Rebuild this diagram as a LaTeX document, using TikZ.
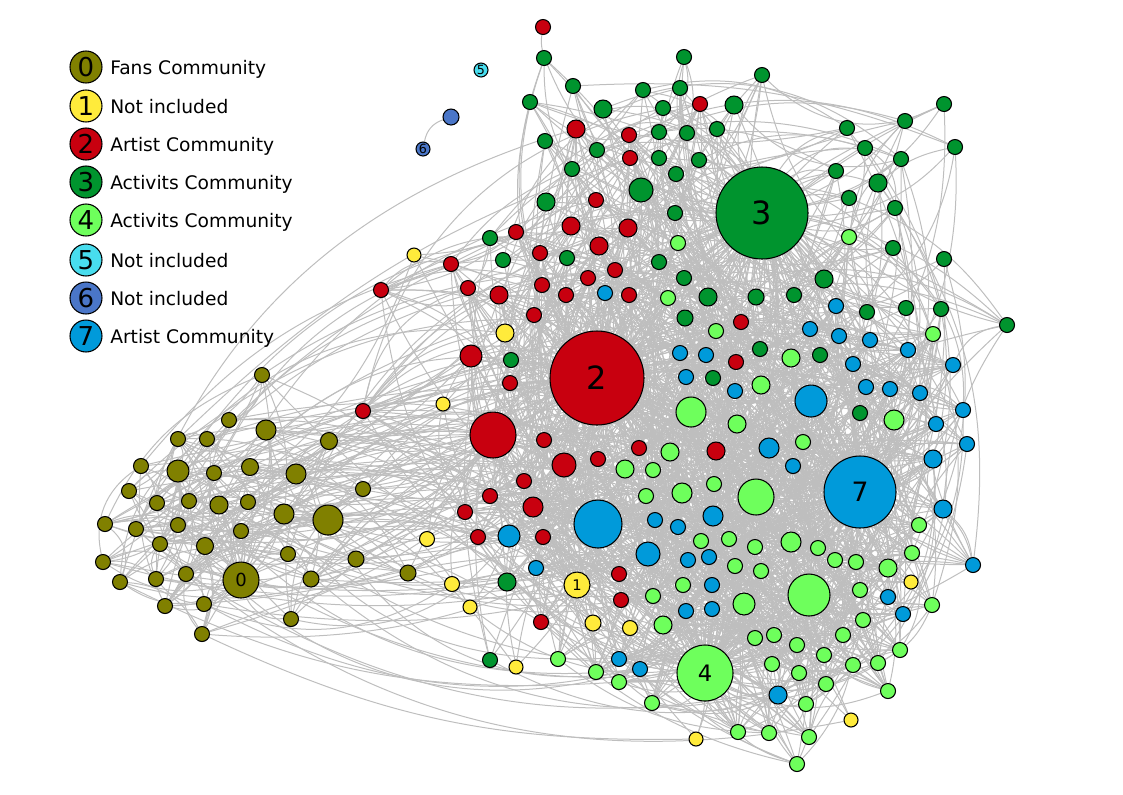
\documentclass[tikz,border=0pt]{standalone}
\usepackage{fontspec}
\setmainfont{DejaVu Sans}
\definecolor{colO}{HTML}{808000}
\definecolor{colY}{HTML}{FFEB3B}
\definecolor{colR}{HTML}{C8000F}
\definecolor{colG}{HTML}{00942E}
\definecolor{colL}{HTML}{6EFF5C}
\definecolor{colC}{HTML}{48DDEE}
\definecolor{colS}{HTML}{4A76C8}
\definecolor{colB}{HTML}{009ADA}
\definecolor{edgegray}{HTML}{BEBEBE}
\pgfdeclarelayer{edges}
\pgfsetlayers{edges,main}
\tikzset{
  dot/.style={circle, draw=black, line width=0.8pt, inner sep=0pt, minimum size=#1},
  edge/.style={draw=edgegray, line width=0.75pt},
  legtext/.style={anchor=base west, inner sep=0pt, font=\fontsize{14}{16}\selectfont},
  legnum/.style={font=\fontsize{19.5}{20}\selectfont}
}
\newcommand\myedge[2]{\pgfmathrandominteger{\bb}{12}{36}\pgfmathrandominteger{\ss}{0}{1}\pgfmathtruncatemacro\bb{\bb*(2*\ss-1)}\draw[edge] (#1) to[bend left=\bb] (#2);}
\newcommand\pick[2]{\pgfmathrandominteger{#1}{1}{#2}}
\newcommand\pickR[1]{\pgfmathrandominteger{#1}{2}{41}}
\begin{document}
\begin{tikzpicture}[x=0.75pt,y=-0.75pt]
\useasboundingbox (0,0) rectangle (1123,794);
\pgfmathsetseed{2024}
% ---------------- nodes ----------------
\foreach \x/\y/\r [count=\i] in {262/375/7.5, 229/420/7.5, 266/430/10, 178/439/7.5, 207/439/7.5, 329/441/8.5, 141/466/7.5, 178/471/11, 214/473/7.5, 250/467/8.5, 296/474/10, 129/491/7.5, 363/489/7.5, 157/503/7.5, 189/501/7.5, 219/505/9, 248/502/7.5, 284/514/10, 328/520/15, 105/524/7.5, 136/529/7.5, 178/525/7.5, 241/531/7.5, 160/544/7.5, 205/546/8.5, 288/554/7.5, 356/559/8, 103/562/7.5, 186/574/7.5, 156/579/7.5, 311/579/8, 120/582/7.5, 165/606/7.5, 204/604/7.5, 291/619/7.5, 202/634/7.5, 408/573/8}
  {\pgfmathsetmacro\d{1.5*\r}\node[dot=\d pt, fill=colO] (O\i) at (\x,\y) {};}
\foreach \x/\y/\r [count=\i] in {414/255/7, 505/333/9, 443/404/7, 427/539/7.5, 452/584/7.5, 470/607/7, 593/623/8, 630/628/7.5, 516/667/7, 696/739/7, 911/582/7, 851/720/7}
  {\pgfmathsetmacro\d{1.5*\r}\node[dot=\d pt, fill=colY] (Y\i) at (\x,\y) {};}
\foreach \x/\y/\r [count=\i] in {543/27/7.5, 700/104/7.5, 576/129/9, 629/135/7.5, 630/158/7.5, 596/200/7.5, 571/226/9, 628/228/9, 516/232/7.5, 451/264/7.5, 540/253/7.5, 599/246/9, 615/270/7.5, 381/290/7.5, 468/288/7.5, 499/295/9, 542/285/7.5, 566/295/7.5, 588/278/7.5, 629/295/7.5, 534/315/7.5, 471/356/11, 510/383/7.5, 493/435/23, 363/411/7.5, 544/440/7.5, 564/465/12, 598/459/7.5, 639/448/7.5, 524/481/7.5, 490/496/7.5, 533/507/10, 465/512/7.5, 478/537/7.5, 543/537/7.5, 619/574/7.5, 621/600/7.5, 541/622/7.5, 741/322/7.5, 736/362/7.5, 716/451/9}
  {\pgfmathsetmacro\d{1.5*\r}\node[dot=\d pt, fill=colR] (R\i) at (\x,\y) {};}
\foreach \x/\y/\r [count=\i] in {544/58/7.5, 573/86/7.5, 530/102/7.5, 603/109/9, 643/90/7.5, 680/88/7.5, 684/57/7.5, 663/108/7.5, 734/105/9, 762/75/7.5, 659/132/7.5, 687/133/7.5, 717/129/7.5, 545/141/7.5, 597/150/7.5, 659/158/7.5, 699/160/7.5, 572/169/7.5, 676/174/7.5, 641/190/12, 546/202/9, 675/213/7.5, 490/238/7.5, 503/260/7.5, 567/258/7.5, 659/262/7.5, 684/278/7.5, 685/318/8, 708/297/9, 756/297/8, 794/295/7.5, 824/279/9, 511/360/7.5, 507/582/9, 490/660/7.5, 944/104/7.5, 847/128/7.5, 905/121/7.5, 865/148/7.5, 955/147/7.5, 836/171/7.5, 901/159/7.5, 878/183/9, 849/198/7.5, 895/208/7.5, 893/248/7.5, 944/259/7.5, 867/312/7.5, 906/308/7.5, 941/309/7.5, 1007/325/7.5, 760/349/7.5, 820/355/7.5, 713/378/7.5, 860/413/7.5}
  {\pgfmathsetmacro\d{1.5*\r}\node[dot=\d pt, fill=colG] (G\i) at (\x,\y) {};}
\foreach \x/\y/\r [count=\i] in {678/243/7.5, 668/298/7.5, 849/237/7.5, 716/331/7.5, 933/334/7.5, 791/358/9, 761/385/9, 691/412/15, 737/424/9, 894/420/10, 803/442/7.5, 670/452/9, 625/469/9, 653/470/7.5, 714/484/7.5, 756/497/18, 646/496/7.5, 682/493/10, 701/541/7.5, 729/539/7.5, 755/547/7.5, 791/542/10, 818/548/7.5, 835/560/7.5, 856/562/7.5, 919/525/7.5, 912/553/7.5, 735/566/7.5, 761/571/7.5, 888/568/9, 809/595/21, 860/590/7.5, 683/585/7.5, 744/604/11, 653/596/7.5, 663/625/9, 932/605/7.5, 863/620/7.5, 755/638/7.5, 774/635/7.5, 797/645/7.5, 843/635/7.5, 824/655/7.5, 900/650/7.5, 772/664/7.5, 799/673/7.5, 853/665/7.5, 878/663/7.5, 826/684/7.5, 806/704/7.5, 888/691/7.5, 738/732/7.5, 769/733/7.5, 809/737/7.5, 797/764/7.5, 558/659/7.5, 596/672/7.5, 619/682/7.5, 652/703/7.5}
  {\pgfmathsetmacro\d{1.5*\r}\node[dot=\d pt, fill=colL] (L\i) at (\x,\y) {};}
\foreach \x/\y/\r [count=\i] in {605/293/7.5, 836/306/7.5, 810/329/7.5, 839/336/7.5, 870/340/7.5, 908/350/7.5, 953/365/7.5, 680/353/7.5, 706/355/7.5, 853/364/7.5, 686/377/7.5, 735/391/7.5, 811/401/16, 866/387/7.5, 890/389/7.5, 920/393/7.5, 963/410/7.5, 936/424/7.5, 967/444/7.5, 769/448/10, 793/466/7.5, 933/459/9, 943/509/9, 973/565/7.5, 598/524/24, 655/520/7.5, 678/527/7.5, 713/516/10, 509/536/11, 536/568/7.5, 648/554/12, 688/560/7.5, 709/557/7.5, 712/585/7.5, 686/611/7.5, 712/609/7.5, 888/597/7.5, 903/614/7.5, 778/695/9, 619/659/7.5, 640/669/7.5}
  {\pgfmathsetmacro\d{1.5*\r}\node[dot=\d pt, fill=colB] (B\i) at (\x,\y) {};}
% hubs and labelled nodes
\node[dot=70.5pt, fill=colR, font=\fontsize{24}{24}\selectfont] (h2) at (597,378) {2};
\node[dot=69pt, fill=colG, font=\fontsize{24}{24}\selectfont] (h3) at (762,213) {3};
\node[dot=54pt, fill=colB, font=\fontsize{20}{20}\selectfont] (h7) at (860,492) {7};
\node[dot=42pt, fill=colL, font=\fontsize{17}{17}\selectfont] (h4) at (705,673) {4};
\node[dot=27pt, fill=colO, font=\fontsize{13.5}{14}\selectfont] (h0) at (241,580) {0};
\node[dot=19.5pt, fill=colY, font=\fontsize{11}{11}\selectfont] (h1) at (577,585) {1};
\node[dot=10.5pt, fill=colC, font=\fontsize{9.5}{10}\selectfont] (h5) at (481,70) {5};
\node[dot=10.5pt, fill=colS, font=\fontsize{9.5}{10}\selectfont] (h6) at (423,149) {6};
\node[dot=12pt, fill=colS] (s6) at (451,117) {};
% ---------------- legend ----------------
\foreach \y/\c/\n/\t in {67/colO/0/Fans Community, 106/colY/1/Not included, 144/colR/2/Artist Community, 182/colG/3/Activits Community, 220/colL/4/Activits Community, 260/colC/5/Not included, 298/colS/6/Not included, 336/colB/7/Artist Community}
  {\node[dot=24pt, fill=\c, legnum] (lg\n) at (86,\y) {\n};
   \node[legtext] (lt\n) at (110,\y+7) {\t};}
% ---------------- edges ----------------
\begin{pgfonlayer}{edges}
\draw[edge] (h6) to[bend left=30] (s6);
\draw[edge] (R1) to[bend right=10] (G1);
% olive
\foreach \i in {1,...,37}{
  \myedge{h0}{O\i}
  \pick\k{37}\ifnum\k=\i\else\myedge{O\i}{O\k}\fi
  \pick\k{37}\ifnum\k=\i\else\myedge{O\i}{O\k}\fi
  \pick\k{37}\ifnum\k=\i\else\myedge{O\i}{O\k}\fi
  \pickR\k\myedge{O\i}{R\k}
  \pick\k{59}\myedge{O\i}{L\k}
  \pick\k{41}\myedge{O\i}{B\k}
}
% yellow
\foreach \i in {1,...,12}{
  \myedge{h2}{Y\i}
  \pickR\k\myedge{Y\i}{R\k}
  \pick\k{59}\myedge{Y\i}{L\k}
  \pick\k{37}\myedge{Y\i}{O\k}
}
\foreach \i in {1,...,6}{\pick\k{59}\myedge{h1}{L\k}\pickR\k\myedge{h1}{R\k}\pick\k{41}\myedge{h1}{B\k}}
% red
\foreach \i in {2,...,41}{
  \myedge{h2}{R\i}
  \pickR\k\ifnum\k=\i\else\myedge{R\i}{R\k}\fi
  \pickR\k\ifnum\k=\i\else\myedge{R\i}{R\k}\fi
  \pick\k{55}\myedge{R\i}{G\k}
  \pick\k{59}\myedge{R\i}{L\k}
  \pick\k{59}\myedge{R\i}{L\k}
  \pick\k{41}\myedge{R\i}{B\k}
}
% green
\foreach \i in {1,...,55}{
  \myedge{h3}{G\i}
  \pick\k{55}\ifnum\k=\i\else\myedge{G\i}{G\k}\fi
  \pick\k{59}\myedge{G\i}{L\k}
}
\foreach \i in {14,...,35}{
  \pickR\k\myedge{G\i}{R\k}
}
% light green
\foreach \i in {1,...,59}{
  \myedge{h4}{L\i}
  \pick\k{59}\ifnum\k=\i\else\myedge{L\i}{L\k}\fi
  \pick\k{59}\ifnum\k=\i\else\myedge{L\i}{L\k}\fi
  \pick\k{59}\ifnum\k=\i\else\myedge{L\i}{L\k}\fi
  \pick\k{41}\myedge{L\i}{B\k}
  \pickR\k\myedge{L\i}{R\k}
}
% blue
\foreach \i in {1,...,41}{
  \myedge{h7}{B\i}
  \pick\k{41}\ifnum\k=\i\else\myedge{B\i}{B\k}\fi
  \pick\k{41}\ifnum\k=\i\else\myedge{B\i}{B\k}\fi
  \pick\k{59}\myedge{B\i}{L\k}
  \pick\k{59}\myedge{B\i}{L\k}
  \pick\k{55}\myedge{B\i}{G\k}
}
% hubs to other communities
\foreach \j in {1,...,30}{
  \pick\k{59}\myedge{h2}{L\k}
  \pick\k{41}\myedge{h2}{B\k}
  \pick\k{59}\myedge{h7}{L\k}
  \pick\k{59}\myedge{h3}{L\k}
}
\foreach \j in {1,...,20}{
  \pick\k{55}\myedge{h2}{G\k}
  \pickR\k\myedge{h3}{R\k}
  \pick\k{41}\myedge{h3}{B\k}
  \pick\k{41}\myedge{h4}{B\k}
  \pickR\k\myedge{h4}{R\k}
  \pickR\k\myedge{h7}{R\k}
  \pick\k{55}\myedge{h7}{G\k}
}
\foreach \j in {1,...,12}{
  \pick\k{37}\myedge{h2}{O\k}
  \pick\k{37}\myedge{R24}{O\k}
  \pick\k{59}\myedge{R24}{L\k}
  \pick\k{59}\myedge{B25}{L\k}
  \pickR\k\myedge{B25}{R\k}
  \pick\k{41}\myedge{L16}{B\k}
  \pick\k{41}\myedge{L31}{B\k}
  \pick\k{59}\myedge{B13}{L\k}
  \pickR\k\myedge{L8}{R\k}
}
\myedge{h2}{h3}\myedge{h2}{h7}\myedge{h2}{h4}\myedge{h3}{h7}\myedge{h7}{h4}\myedge{h0}{h2}\myedge{h0}{h1}\myedge{h1}{h2}
\end{pgfonlayer}
\end{tikzpicture}
\end{document}
